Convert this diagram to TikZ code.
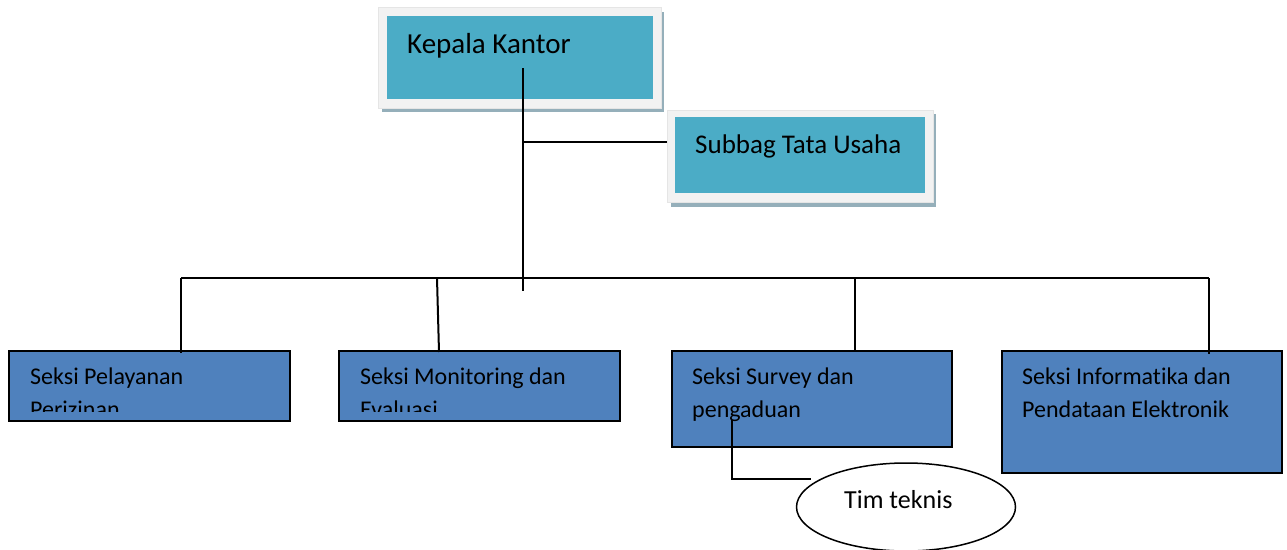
\documentclass[tikz,border=0pt]{standalone}
\usepackage{fontspec}
\setmainfont[Ligatures={NoCommon}]{Carlito}
\usetikzlibrary{shapes.geometric}
\definecolor{teal}{HTML}{4BACC6}
\definecolor{framegray}{HTML}{F2F2F2}
\definecolor{shadowgray}{HTML}{95AFBA}
\definecolor{seksiblue}{HTML}{4F81BD}
\tikzset{
  conn/.style={draw=black, line width=2pt},
  seksi/.style={draw=black, line width=2pt, fill=seksiblue, inner sep=0pt, outer sep=0pt},
  lbl/.style={anchor=base west, inner sep=0pt, text=black, font=\fontsize{24}{33}\selectfont},
  toplbl/.style={anchor=base west, inner sep=0pt, text=black},
  shadowbox/.style={fill=shadowgray, draw=none, inner sep=0pt},
  framebox/.style={fill=framegray, draw=white!90!black, line width=0.5pt, inner sep=0pt},
  tealbox/.style={fill=teal, draw=none, inner sep=0pt},
}
\begin{document}
\begin{tikzpicture}[x=1pt,y=-1pt]
\useasboundingbox (0,0) rectangle (1287,549);
% Kepala Kantor
\path[shadowbox] (382,12) rectangle (664,112);
\path[framebox] (378,7) rectangle (661,108);
\node[tealbox, minimum width=266pt, minimum height=83pt] (kk) at (520,57.5) {};
\node[toplbl, font=\fontsize{29}{34}\selectfont] (kklbl) at (407,53) {Kepala Kantor};
% Subbag Tata Usaha
\path[shadowbox] (671,114) rectangle (936,207);
\node[framebox, minimum width=266pt, minimum height=92pt] (sbf) at (800,156) {};
\node[tealbox, minimum width=250pt, minimum height=76pt] (sb) at (800,155) {};
\node[toplbl, font=\fontsize{27}{33}\selectfont] (sblbl) at (695,153) {Subbag Tata Usaha};
% Seksi boxes
\node[seksi, minimum width=281pt, minimum height=70pt] (s1) at (149.5,386) {};
\node[seksi, minimum width=281pt, minimum height=70pt] (s2) at (479.5,386) {};
\node[seksi, minimum width=280pt, minimum height=96pt] (s3) at (812,399) {};
\node[seksi, minimum width=280pt, minimum height=122pt] (s4) at (1142,412) {};
\begin{scope}
  \clip (8,350) rectangle (291,411.7);
  \node[lbl] (s1a) at (30,384) {Seksi Pelayanan};
  \node[lbl] (s1b) at (30,417) {Perizinan};
\end{scope}
\begin{scope}
  \clip (338,350) rectangle (621,411.7);
  \node[lbl] (s2a) at (360,384) {Seksi Monitoring dan};
  \node[lbl] (s2b) at (360,417) {Evaluasi};
\end{scope}
\node[lbl] (s3a) at (692,384) {Seksi Survey dan};
\node[lbl] (s3b) at (692,417) {pengaduan};
\node[lbl] (s4a) at (1022,384) {Seksi Informatika dan};
\node[lbl] (s4b) at (1022,417) {Pendataan Elektronik};
% Tim teknis
\node[ellipse, draw=black, line width=1.5pt, fill=white, minimum width=219pt, minimum height=88pt, inner sep=0pt] (tt) at (906,507) {};
\node[toplbl, font=\fontsize{26}{31}\selectfont] (ttlbl) at (844,508) {Tim teknis};
% connectors
\coordinate (kkdown) at (523,68);
\coordinate (busend) at (523,291);
\coordinate (jsb) at (523,142);
\coordinate (busL) at (181,278);
\coordinate (busR) at (1209,278);
\coordinate (b2top) at (437,278);
\coordinate (b2bot) at (439,352);
\coordinate (b3top) at (855,278);
\coordinate (ttstart) at (732,420);
\coordinate (ttend) at (811,479);
\draw[conn] (kkdown) -- (busend);
\draw[conn] (jsb) -- (jsb -| sbf.west);
\draw[conn] (busL) -- (busR);
\draw[conn] (busL) -- (busL |- 0,353);
\draw[conn] (b2top) -- (b2bot);
\draw[conn] (b3top) -- (b3top |- s3.north);
\draw[conn] (busR) -- (busR |- 0,354);
\draw[conn] (ttstart) |- (ttend);
\end{tikzpicture}
\end{document}
